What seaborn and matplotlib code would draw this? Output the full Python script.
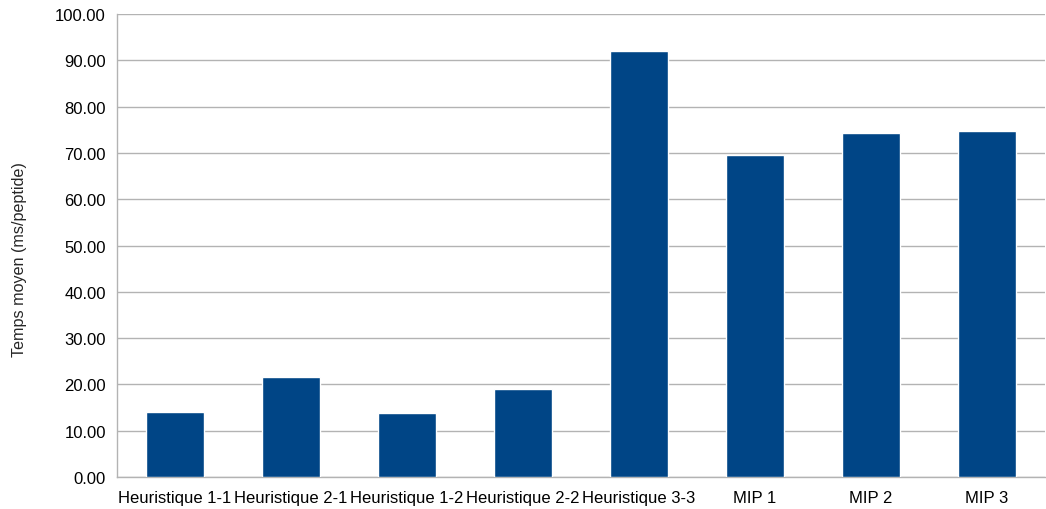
import numpy as np
import pandas as pd
import matplotlib
matplotlib.use('Agg')
import matplotlib.pyplot as plt
import seaborn as sns
from matplotlib.ticker import FormatStrFormatter, FixedLocator

# données
methodes = ['Heuristique 1-1', 'Heuristique 2-1', 'Heuristique 1-2', 'Heuristique 2-2',
            'Heuristique 3-3', 'MIP 1', 'MIP 2', 'MIP 3']
temps = [14.1, 21.5, 13.8, 19.0, 92.1, 69.6, 74.4, 74.7]

df = pd.DataFrame({'methode': methodes, 'temps': temps})

sns.set_style('white')
plt.rcParams['font.family'] = ['Liberation Sans', 'DejaVu Sans']

fig = plt.figure(figsize=(10.46, 5.10), dpi=100)
ax = fig.add_axes([0.1119, 0.0627, 0.8871, 0.9079])

sns.barplot(data=df, x='methode', y='temps', color='#004586', width=0.5,
            saturation=1, ax=ax, zorder=3)

gris = '#b3b3b3'
ax.set_ylim(0, 100)
ax.set_xlim(-0.5, len(methodes) - 0.5)
ax.set_yticks(np.arange(0, 101, 10))
ax.yaxis.set_major_formatter(FormatStrFormatter('%.2f'))
ax.grid(axis='y', color=gris, linewidth=1, zorder=0)
ax.set_axisbelow(True)

ax.xaxis.set_minor_locator(FixedLocator(np.arange(-0.5, len(methodes), 1)))
ax.tick_params(axis='x', which='major', length=0, pad=9, labelsize=12, colors='black')
ax.tick_params(axis='x', which='minor', length=5, color=gris, width=1)
ax.tick_params(axis='y', length=5, color=gris, width=1, labelsize=12, pad=3,
               labelcolor='black')

for s in ['top', 'right']:
    ax.spines[s].set_visible(False)
for s in ['left', 'bottom']:
    ax.spines[s].set_color(gris)
    ax.spines[s].set_linewidth(1)

ax.set_xlabel('')
ax.set_ylabel('Temps moyen (ms/peptide)', fontsize=11.6)
ax.yaxis.set_label_coords(-0.097, 0.471)

fig.savefig('out.png', dpi=100)
